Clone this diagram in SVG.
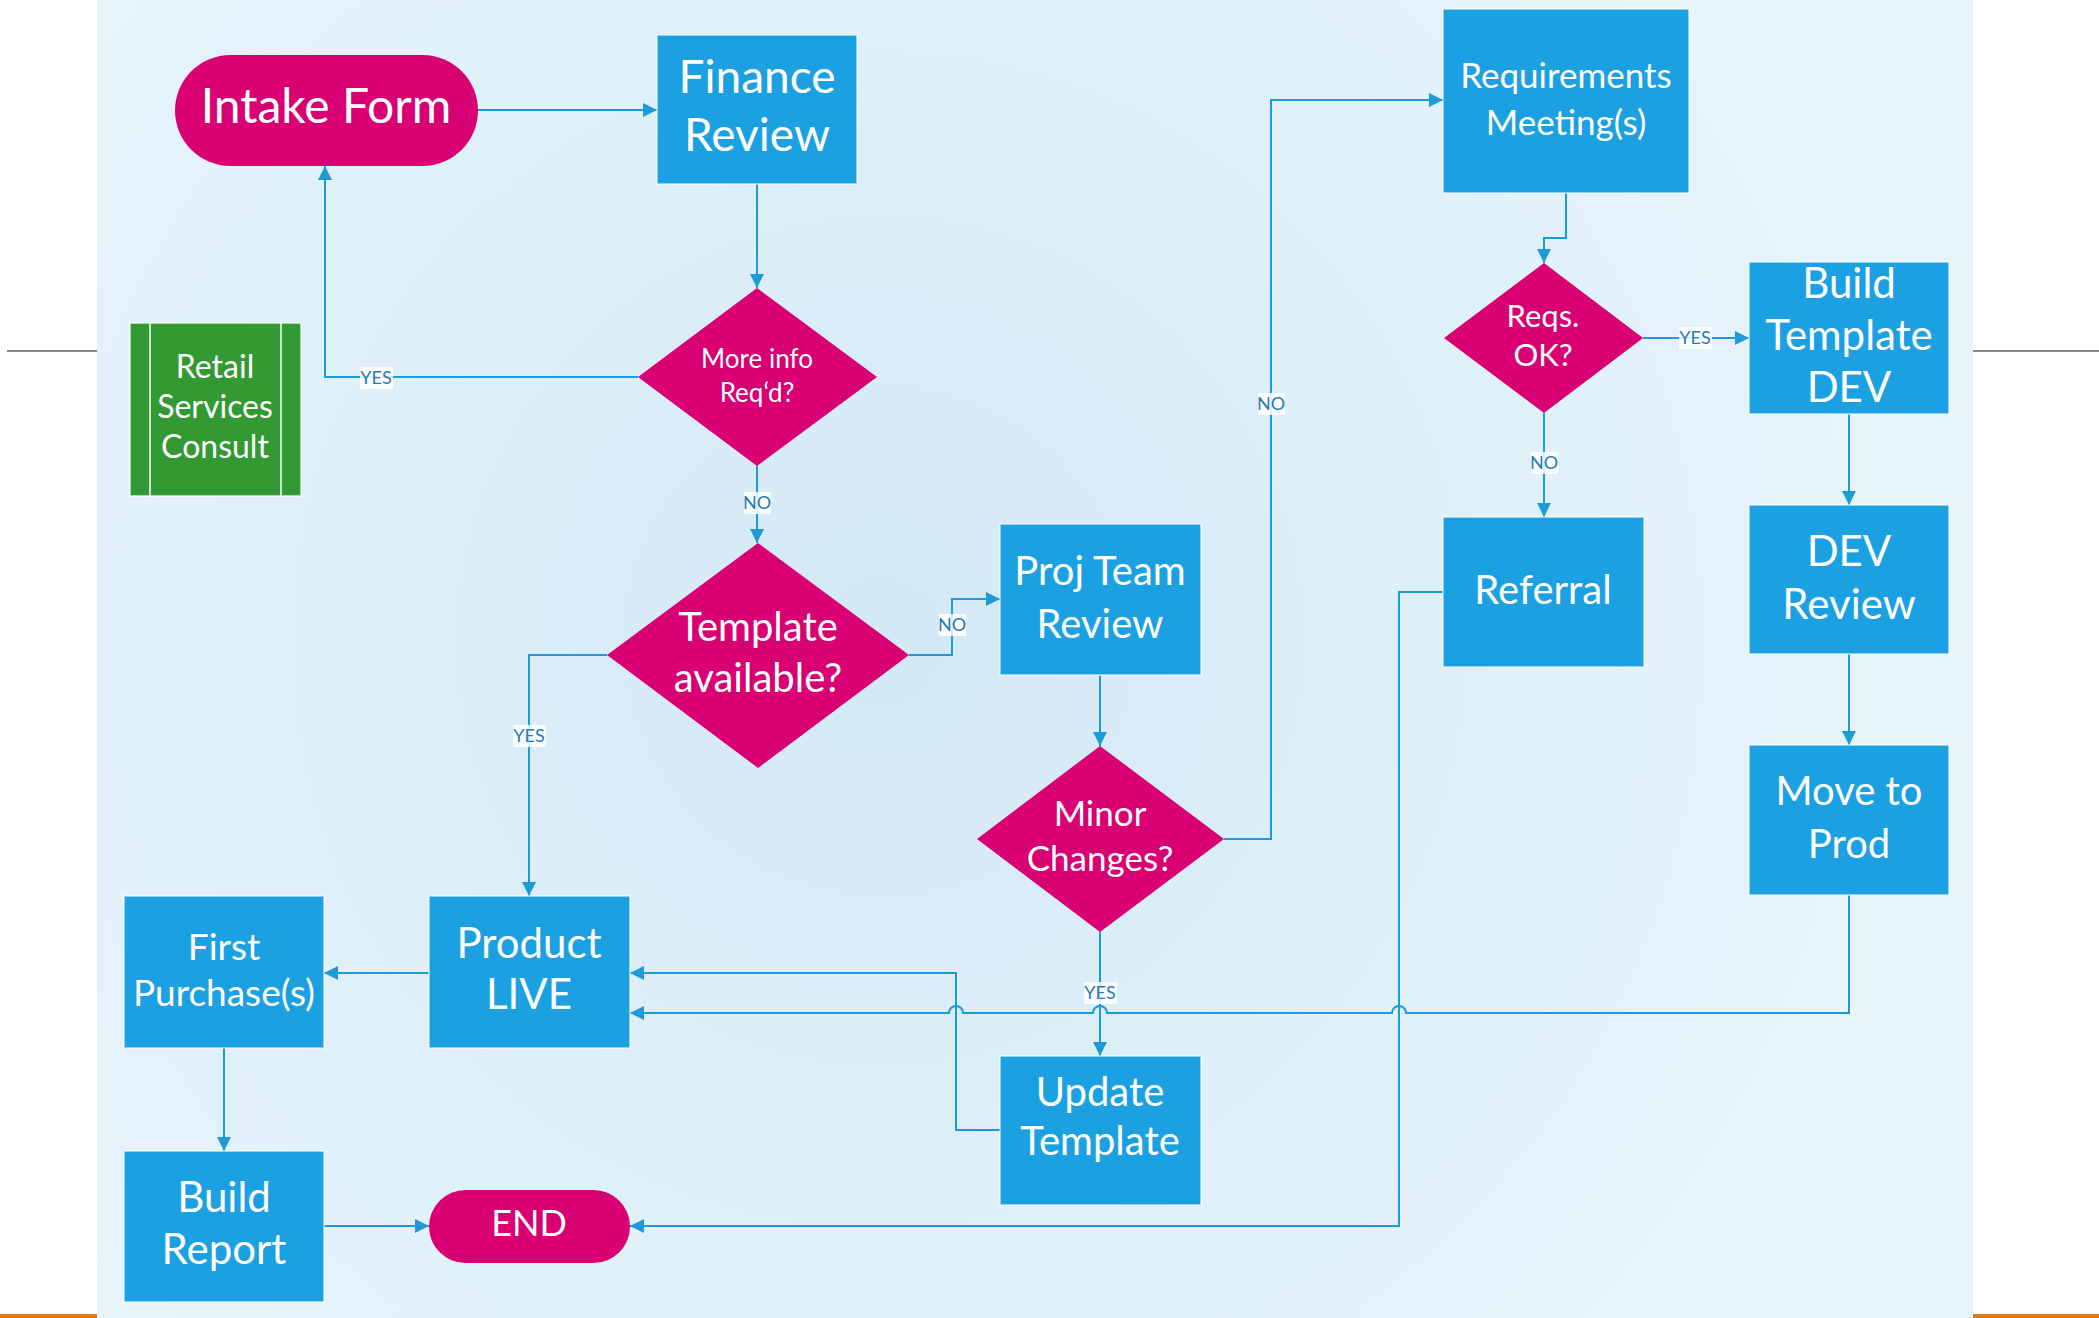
<svg xmlns="http://www.w3.org/2000/svg" width="2099" height="1318" viewBox="0 0 2099 1318">
<defs>
<radialGradient id="bg" gradientUnits="userSpaceOnUse" cx="880" cy="640" r="1000">
<stop offset="0" stop-color="#d3e9f6"/>
<stop offset="0.6" stop-color="#dff0f9"/>
<stop offset="1" stop-color="#e6f4fb"/>
</radialGradient>
<marker id="arr" markerUnits="userSpaceOnUse" markerWidth="16" markerHeight="14" refX="14" refY="7" orient="auto">
<path d="M0,0 L14,7 L0,14 Z" fill="#1e9ad6"/>
</marker>
<style>
.box{fill:#1ba1e2;stroke:#ffffff;stroke-opacity:0.7;stroke-width:1.5}
.pink{fill:#d80073}
.t{font-family:Lato,"Open Sans","Liberation Sans",sans-serif;fill:#ffffff;text-anchor:middle}
.c{fill:none;stroke:#1e9ad6;stroke-width:2}
.lb{fill:#ffffff;fill-opacity:0.85}
.lt{font-family:Lato,"Open Sans","Liberation Sans",sans-serif;fill:#2a79b0;font-size:18px;text-anchor:middle}
</style>
</defs>
<rect x="0" y="0" width="2099" height="1318" fill="#ffffff"/>
<rect x="97" y="0" width="1876" height="1318" fill="url(#bg)"/>
<line x1="7" y1="351" x2="97" y2="351" stroke="#8a8a8a" stroke-width="2"/>
<line x1="1973" y1="351" x2="2099" y2="351" stroke="#8a8a8a" stroke-width="2"/>
<rect x="0" y="1314" width="97" height="4" fill="#e07b10"/>
<rect x="1973" y="1314" width="126" height="4" fill="#e07b10"/>

<g id="connectors">
<path class="c" d="M478,110 H657" marker-end="url(#arr)"/>
<path class="c" d="M757,184 V288" marker-end="url(#arr)"/>
<path class="c" d="M638,377 H325 V166" marker-end="url(#arr)"/>
<path class="c" d="M757,466 V543" marker-end="url(#arr)"/>
<path class="c" d="M607,655 H529 V896" marker-end="url(#arr)"/>
<path class="c" d="M909,655 H952 V599 H1000" marker-end="url(#arr)"/>
<path class="c" d="M1100,675 V746" marker-end="url(#arr)"/>
<path class="c" d="M1224,839 H1271 V100 H1443" marker-end="url(#arr)"/>
<path class="c" d="M1100,932 V1056" marker-end="url(#arr)"/>
<path class="c" d="M1566,193 V238 H1544 V263" marker-end="url(#arr)"/>
<path class="c" d="M1643,338 H1749" marker-end="url(#arr)"/>
<path class="c" d="M1544,413 V517" marker-end="url(#arr)"/>
<path class="c" d="M1849,414 V505" marker-end="url(#arr)"/>
<path class="c" d="M1849,654 V745" marker-end="url(#arr)"/>
<path class="c" d="M1849,895 V1013 H1406 A7,7 0 0 0 1392,1013 H1107 A7,7 0 0 0 1093,1013 H963 A7,7 0 0 0 949,1013 H630" marker-end="url(#arr)"/>
<path class="c" d="M1000,1130 H956 V973 H630" marker-end="url(#arr)"/>
<path class="c" d="M1443,592 H1399 V1226 H630" marker-end="url(#arr)"/>
<path class="c" d="M429,973 H324" marker-end="url(#arr)"/>
<path class="c" d="M224,1048 V1151" marker-end="url(#arr)"/>
<path class="c" d="M324,1226 H429" marker-end="url(#arr)"/>
<rect class="lb" x="360" y="367" width="33" height="22"/><text class="lt" x="376" y="384">YES</text>
<rect class="lb" x="744" y="492" width="27" height="22"/><text class="lt" x="757" y="509">NO</text>
<rect class="lb" x="513" y="725" width="33" height="22"/><text class="lt" x="529" y="742">YES</text>
<rect class="lb" x="939" y="614" width="27" height="22"/><text class="lt" x="952" y="631">NO</text>
<rect class="lb" x="1258" y="393" width="27" height="22"/><text class="lt" x="1271" y="410">NO</text>
<rect class="lb" x="1084" y="982" width="33" height="22"/><text class="lt" x="1100" y="999">YES</text>
<rect class="lb" x="1679" y="327" width="33" height="22"/><text class="lt" x="1695" y="344">YES</text>
<rect class="lb" x="1531" y="452" width="27" height="22"/><text class="lt" x="1544" y="469">NO</text>
</g>

<g id="intake-form">
<rect class="pink" x="175" y="55" width="303" height="111" rx="55.5"/>
<text class="t" x="326" y="123" font-size="48">Intake Form</text>
</g>
<g id="finance-review">
<rect class="box" x="657" y="35" width="200" height="149"/>
<text class="t" x="757" y="93" font-size="46">Finance</text>
<text class="t" x="757" y="151" font-size="46">Review</text>
</g>
<g id="more-info">
<polygon class="pink" points="757,288 877,377 757,466 638,377"/>
<text class="t" x="757" y="368" font-size="26">More info</text>
<text class="t" x="757" y="402" font-size="26">Req‘d?</text>
</g>
<g id="retail-services">
<rect x="130" y="323" width="171" height="173" fill="#339933" stroke="#ffffff" stroke-opacity="0.8" stroke-width="1.5"/>
<line x1="150" y1="323" x2="150" y2="496" stroke="#ffffff" stroke-width="1.5"/>
<line x1="281" y1="323" x2="281" y2="496" stroke="#ffffff" stroke-width="1.5"/>
<text class="t" x="215" y="378" font-size="32">Retail</text>
<text class="t" x="215" y="418" font-size="32">Services</text>
<text class="t" x="215" y="458" font-size="32">Consult</text>
</g>
<g id="template-available">
<polygon class="pink" points="758,543 909,655 758,768 607,655"/>
<text class="t" x="758" y="641" font-size="40">Template</text>
<text class="t" x="758" y="692" font-size="40">available?</text>
</g>
<g id="proj-team-review">
<rect class="box" x="1000" y="524" width="201" height="151"/>
<text class="t" x="1100" y="585" font-size="40">Proj Team</text>
<text class="t" x="1100" y="638" font-size="40">Review</text>
</g>
<g id="minor-changes">
<polygon class="pink" points="1100,746 1224,839 1100,932 977,839"/>
<text class="t" x="1100" y="826" font-size="35">Minor</text>
<text class="t" x="1100" y="871" font-size="35">Changes?</text>
</g>
<g id="requirements-meeting">
<rect class="box" x="1443" y="9" width="246" height="184"/>
<text class="t" x="1566" y="88" font-size="35">Requirements</text>
<text class="t" x="1566" y="135" font-size="35">Meeting(s)</text>
</g>
<g id="reqs-ok">
<polygon class="pink" points="1544,263 1643,338 1544,413 1444,338"/>
<text class="t" x="1543" y="327" font-size="31">Reqs.</text>
<text class="t" x="1543" y="366" font-size="31">OK?</text>
</g>
<g id="build-template-dev">
<rect class="box" x="1749" y="262" width="200" height="152"/>
<text class="t" x="1849" y="298" font-size="42">Build</text>
<text class="t" x="1849" y="350" font-size="42">Template</text>
<text class="t" x="1849" y="402" font-size="42">DEV</text>
</g>
<g id="referral">
<rect class="box" x="1443" y="517" width="201" height="150"/>
<text class="t" x="1543" y="604" font-size="40">Referral</text>
</g>
<g id="dev-review">
<rect class="box" x="1749" y="505" width="200" height="149"/>
<text class="t" x="1849" y="566" font-size="42">DEV</text>
<text class="t" x="1849" y="619" font-size="42">Review</text>
</g>
<g id="move-to-prod">
<rect class="box" x="1749" y="745" width="200" height="150"/>
<text class="t" x="1849" y="805" font-size="40">Move to</text>
<text class="t" x="1849" y="858" font-size="40">Prod</text>
</g>
<g id="update-template">
<rect class="box" x="1000" y="1056" width="201" height="149"/>
<text class="t" x="1100" y="1106" font-size="40">Update</text>
<text class="t" x="1100" y="1155" font-size="40">Template</text>
</g>
<g id="product-live">
<rect class="box" x="429" y="896" width="201" height="152"/>
<text class="t" x="529" y="958" font-size="42">Product</text>
<text class="t" x="529" y="1009" font-size="42">LIVE</text>
</g>
<g id="first-purchase">
<rect class="box" x="124" y="896" width="200" height="152"/>
<text class="t" x="224" y="960" font-size="37">First</text>
<text class="t" x="224" y="1006" font-size="37">Purchase(s)</text>
</g>
<g id="build-report">
<rect class="box" x="124" y="1151" width="200" height="151"/>
<text class="t" x="224" y="1212" font-size="42">Build</text>
<text class="t" x="224" y="1264" font-size="42">Report</text>
</g>
<g id="end">
<rect class="pink" x="429" y="1190" width="201" height="73" rx="36.5"/>
<text class="t" x="529" y="1236" font-size="36">END</text>
</g>
</svg>
